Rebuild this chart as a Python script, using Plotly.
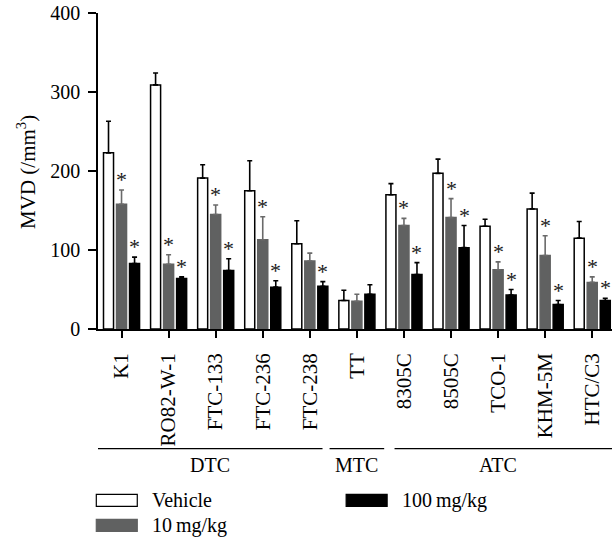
import plotly.graph_objects as go

# ---- data ----
categories = ["K1", "RO82-W-1", "FTC-133", "FTC-236", "FTC-238", "TT",
              "8305C", "8505C", "TCO-1", "KHM-5M", "HTC/C3"]
vehicle = [223, 309, 191, 175, 108, 36, 170, 197, 130, 152, 115]
vehicle_err = [40, 15, 17, 38, 29, 13, 14, 18, 9, 20, 21]
dose10 = [158, 82, 145, 113, 86, 35, 131, 141, 75, 93, 59]
dose10_err = [18, 12, 12, 29, 10, 9, 9, 24, 10, 25, 7]
dose100 = [83, 64, 74, 53, 54, 44, 69, 103, 43, 31, 36]
dose100_err = [8, 2, 15, 8, 6, 12, 15, 28, 7, 5, 3]
sig10 = [1, 1, 1, 1, 0, 0, 1, 1, 1, 1, 1]
sig100 = [1, 1, 1, 1, 1, 0, 1, 1, 1, 1, 1]
groups = [("DTC", 0, 4), ("MTC", 5, 5), ("ATC", 6, 10)]
series_names = ["Vehicle", "10 mg/kg", "100 mg/kg"]
y_ticks = [0, 100, 200, 300, 400]

# ---- style ----
FONT = "Liberation Serif, Times New Roman, serif"
W, H = 612, 542
ML, MR, MT, MB = 97.7, 0, 13.3, 212.5
PW, PH = W - ML - MR, H - MT - MB
GRAY = "#606161"
BARGAP, BARGROUPGAP = 0.17, 0.23
XR = [-0.5, 10.42]


def px_x(px):
    return (px - ML) / PW


def px_y(py):
    return (H - MB - py) / PH


fig = go.Figure()
specs = [
    (vehicle, vehicle_err, "white", "black", "black"),
    (dose10, dose10_err, GRAY, GRAY, "#6a6a6a"),
    (dose100, dose100_err, "black", "black", "black"),
]
for name, (vals, errs, fill, line, ecol) in zip(series_names, specs):
    fig.add_trace(go.Bar(
        x=categories, y=vals, name=name,
        marker=dict(color=fill, line=dict(color=line, width=1.5)),
        error_y=dict(type="data", array=errs, arrayminus=[0] * len(errs),
                     symmetric=False, color=ecol, thickness=1.6, width=2.5),
        showlegend=False, hoverinfo="skip",
    ))

annotations = []
slot = (1 - BARGAP) / 3
for i in range(len(categories)):
    for vals, errs, sig, off in ((dose10, dose10_err, sig10, 0.0),
                                 (dose100, dose100_err, sig100, slot)):
        if sig[i]:
            annotations.append(dict(
                x=i + off, y=vals[i] + errs[i], xref="x", yref="y",
                text="*", showarrow=False, yanchor="bottom", yshift=-4,
                font=dict(family=FONT, size=22, color="#1a1a1a")))

shapes = []
pads = [(-0.53, 0.27), (-0.58, 0.58), (-0.2, 0.42)]
label_shift = [0.0, 0.0, -0.11]
for (label, a, b), (pl, pr), ls in zip(groups, pads, label_shift):
    x0, x1 = a + pl, b + pr
    shapes.append(dict(type="line", xref="x", yref="paper",
                       x0=x0, x1=x1, y0=px_y(449.3), y1=px_y(449.3),
                       line=dict(color="black", width=1.3)))
    annotations.append(dict(x=(x0 + x1) / 2 + ls, y=px_y(466), xref="x", yref="paper",
                            text=label, showarrow=False, xanchor="center",
                            yanchor="middle",
                            font=dict(family=FONT, size=20, color="black")))

# legend drawn manually
legend_items = [
    (series_names[0], "white", "black", 96, 495),
    (series_names[1], GRAY, GRAY, 96, 520),
    (series_names[2], "black", "black", 346, 495),
]
for name, fill, line, lx, ly in legend_items:
    shapes.append(dict(type="rect", xref="paper", yref="paper",
                       x0=px_x(lx), x1=px_x(lx + 41), y0=px_y(ly), y1=px_y(ly + 12),
                       fillcolor=fill, line=dict(color=line, width=1.2)))
    annotations.append(dict(x=px_x(lx + 54), y=px_y(ly + 6), xref="paper", yref="paper",
                            text=name.replace(" ", "\u2009"), showarrow=False,
                            xanchor="left", yanchor="middle",
                            font=dict(family=FONT, size=20, color="black")))

annotations.append(dict(x=px_x(26), y=px_y(172), xref="paper", yref="paper",
                        text="MVD (/mm<sup>3</sup>)", textangle=-90, showarrow=False,
                        xanchor="center", yanchor="middle",
                        font=dict(family=FONT, size=21, color="black")))

fig.update_layout(
    width=W, height=H,
    margin=dict(l=ML, r=MR, t=MT, b=MB, pad=0),
    plot_bgcolor="white", paper_bgcolor="white",
    barmode="group", bargap=BARGAP, bargroupgap=BARGROUPGAP,
    font=dict(family=FONT, size=20, color="black"),
    shapes=shapes, annotations=annotations,
    xaxis=dict(range=XR, showline=True, linecolor="black", linewidth=1.5,
               ticks="outside", ticklen=7, tickwidth=1.5, tickcolor="black",
               tickangle=-90, tickfont=dict(family=FONT, size=21),
               ticklabelstandoff=7, showgrid=False, zeroline=False,
               automargin=False),
    yaxis=dict(range=[0, 400], tickvals=y_ticks, showline=True, linecolor="black",
               linewidth=1.5, ticks="outside", ticklen=8, tickwidth=1.5,
               tickcolor="black", tickfont=dict(family=FONT, size=20),
               ticklabelstandoff=4, showgrid=False, zeroline=False,
               automargin=False),
)

fig.write_html("out.html",
               config={"displayModeBar": False},
               post_script="document.body.style.margin='0px';"
                           "document.body.style.overflow='hidden';")
